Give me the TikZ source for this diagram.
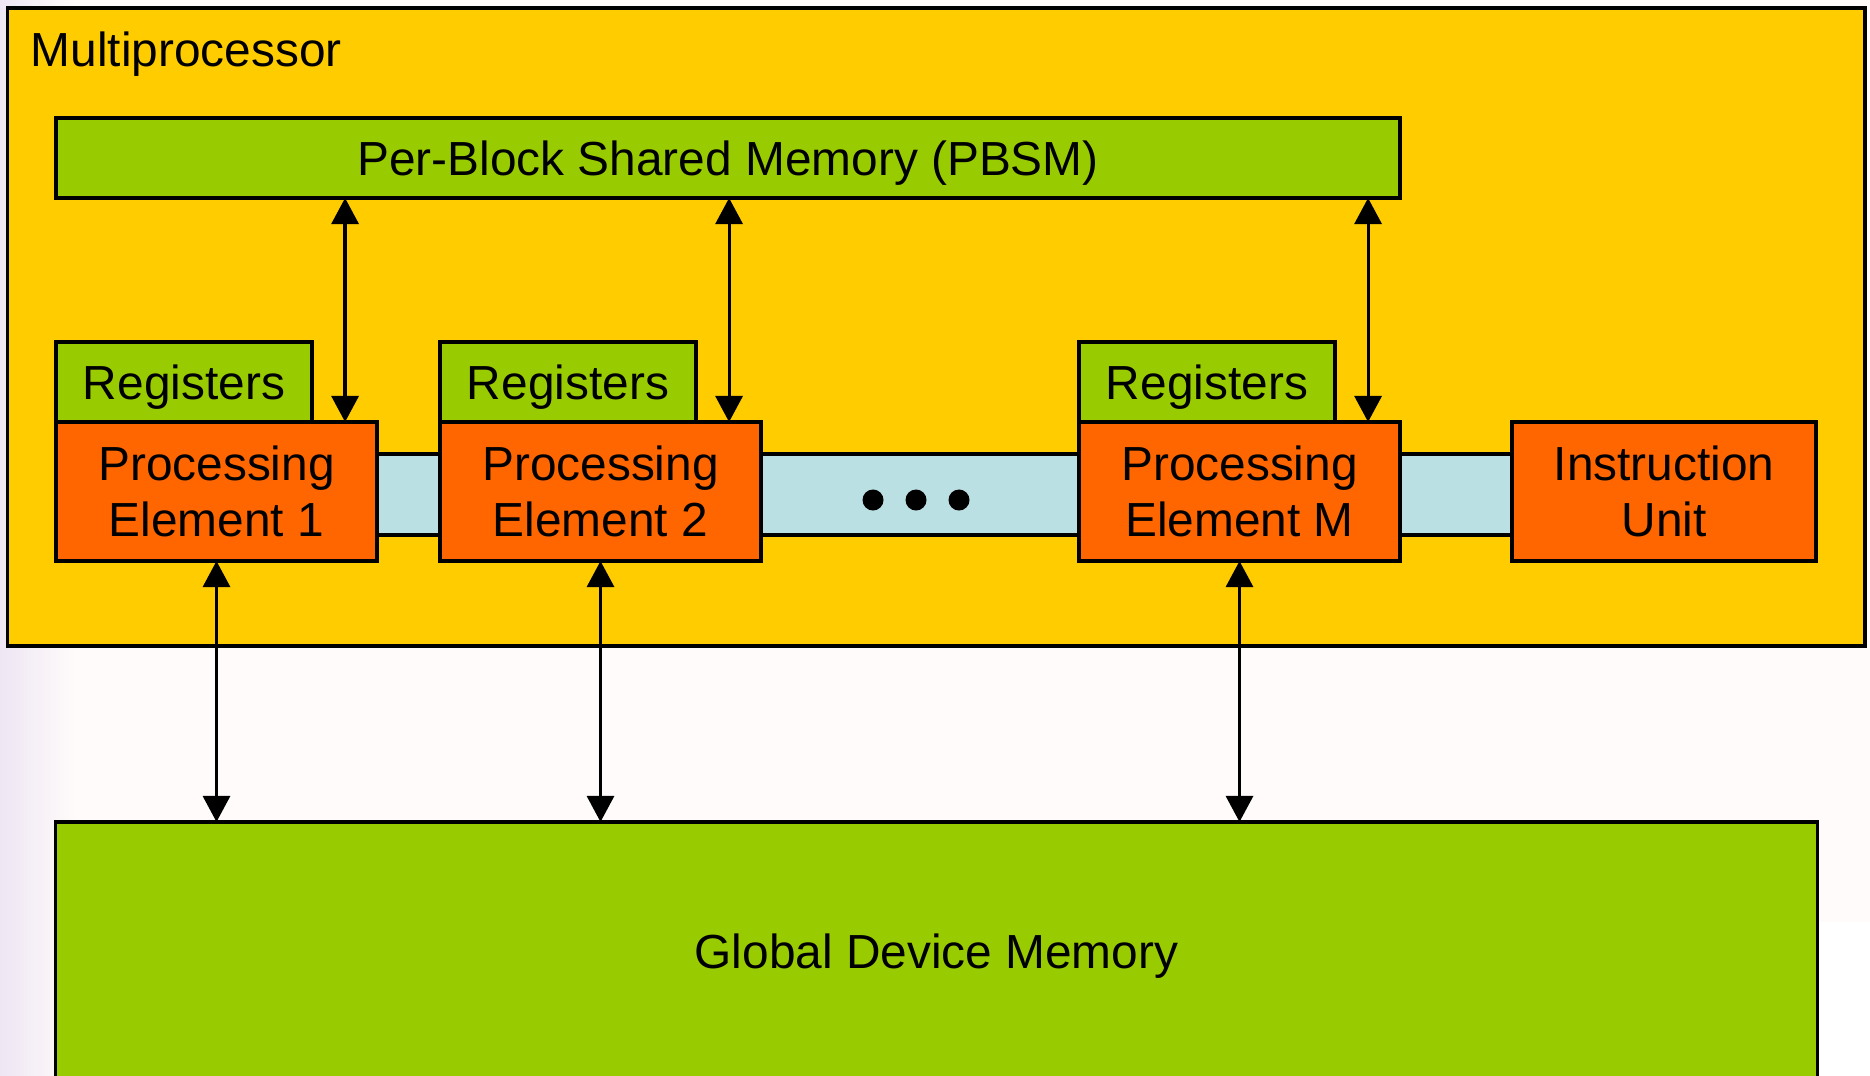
\documentclass[tikz,border=0pt]{standalone}
\usepackage{fontspec}
\setmainfont{Liberation Sans}
\usetikzlibrary{arrows.meta}
\definecolor{mpyellow}{HTML}{FFCC00}
\definecolor{memgreen}{HTML}{99CC00}
\definecolor{peorange}{HTML}{FF6600}
\definecolor{busblue}{HTML}{BBE0E3}
\definecolor{slidebg}{HTML}{FFFBFA}
\definecolor{slidelav}{HTML}{EEE6F4}

\begin{document}
\begin{tikzpicture}[x=0.01cm, y=-0.01cm,
  every node/.style={font=\fontsize{13.6}{15.9}\selectfont},
  box/.style={draw, line width=1.1pt, inner sep=0pt, outer sep=0pt, text centered, align=center},
  mem/.style={box, fill=memgreen, text depth=0pt},
  pe/.style={box, fill=peorange, minimum width=3.21cm, minimum height=1.39cm},
  regs/.style={box, fill=memgreen, text depth=0pt, minimum width=2.56cm, minimum height=0.8cm},
  busdot/.style={circle, fill=black, inner sep=0pt, minimum size=0.21cm},
  link/.style={{Triangle[width=2.7mm,length=2.6mm]}-{Triangle[width=2.7mm,length=2.6mm]}, line width=0.9pt}]
    \useasboundingbox (0,0) rectangle (1870,1076);
    \fill[slidebg] (0,0) rectangle (1870,1076);
    \shade[left color=slidelav, right color=slidebg] (0,0) rectangle (75,1076);
    \fill[white] (1819,922) rectangle (1870,1076);

    \node[box, fill=mpyellow, minimum width=18.56cm, minimum height=6.38cm] (mp) at (936,327) {};
    \node[anchor=base west, inner sep=0pt] (mplabel) at (30,67) {Multiprocessor};
    \node[mem, minimum width=13.44cm, minimum height=0.8cm] (pbsm) at (728,158) {Per-Block Shared Memory (PBSM)};
    \node[box, fill=busblue, minimum width=11.35cm, minimum height=0.81cm] (bus) at (944.5,494.5) {};

    \node[pe] (pe1) at (216.5,491.5) {Processing\\Element 1};
    \node[pe] (pe2) at (600.5,491.5) {Processing\\Element 2};
    \node[pe] (pem) at (1239.5,491.5) {Processing\\Element M};
    \node[box, fill=peorange, minimum width=3.04cm, minimum height=1.39cm] (iu) at (1664,491.5) {Instruction\\Unit};
    \node[regs, anchor=south west] (reg1) at (pe1.north west) {Registers};
    \node[regs, anchor=south west] (reg2) at (pe2.north west) {Registers};
    \node[regs, anchor=south west] (regm) at (pem.north west) {Registers};

    \node[busdot] (dot1) at (873,500) {};
    \node[busdot] (dot2) at (916,500) {};
    \node[busdot] (dot3) at (959,500) {};

    \node[mem, minimum width=17.61cm, minimum height=2.58cm] (gdm) at (936.5,951) {Global Device Memory};

    \coordinate (tap1) at ([xshift=-0.32cm]pe1.north east);
    \coordinate (tap2) at ([xshift=-0.32cm]pe2.north east);
    \coordinate (tapm) at ([xshift=-0.32cm]pem.north east);
    \draw[link] (pbsm.south -| tap1) -- (tap1);
    \draw[link] (pbsm.south -| tap2) -- (tap2);
    \draw[link] (pbsm.south -| tapm) -- (tapm);
    \draw[link] (pe1.south) -- (pe1.south |- gdm.north);
    \draw[link] (pe2.south) -- (pe2.south |- gdm.north);
    \draw[link] (pem.south) -- (pem.south |- gdm.north);
\end{tikzpicture}
\end{document}
